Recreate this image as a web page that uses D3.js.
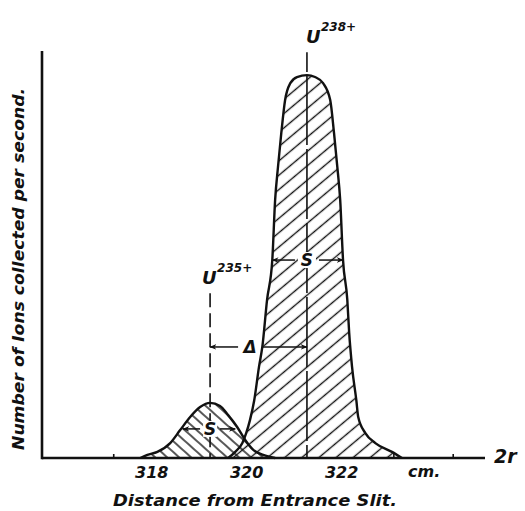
<!DOCTYPE html>
<html>
<head>
<meta charset="utf-8">
<script src="https://cdn.jsdelivr.net/npm/d3@7/dist/d3.min.js"></script>
<style>
  html, body { margin: 0; padding: 0; background: #fff; }
  svg text { font-family: "DejaVu Sans", "Liberation Sans", sans-serif; font-weight: bold; font-style: italic; fill: #111; }
</style>
</head>
<body>
<svg id="chart" width="525" height="511"></svg>
<script>
// ---------------- data ----------------
// Distance from entrance slit (cm) and relative ion current (U238 peak = 100)
const bigPeakX = [319.62, 319.77, 319.92, 320.00, 320.08, 320.17, 320.27, 320.34, 320.44, 320.55, 320.61, 320.67, 320.74, 320.82, 320.93, 321.07, 321.28, 321.45, 321.62, 321.77, 321.85, 321.92, 321.98, 322.04, 322.13, 322.17, 322.23, 322.32, 322.36, 322.51, 322.72, 323.07, 323.28];
const bigPeakY = [0, 1.6, 3.9, 6.5, 9.9, 15.1, 23.8, 29.0, 41.3, 51.7, 67.4, 76.0, 84.9, 93.5, 97.9, 99.5, 100, 99.5, 97.9, 93.5, 84.9, 76.0, 67.4, 51.7, 41.3, 32.6, 23.8, 15.1, 10.7, 6.5, 3.9, 1.6, 0];
const smallPeakX = [317.77, 317.92, 318.13, 318.40, 318.61, 318.82, 319.03, 319.24, 319.45, 319.62, 319.81, 319.98, 320.15, 320.36, 320.61];
const smallPeakY = [0, 0.8, 1.6, 3.9, 7.3, 10.7, 13.3, 14.4, 13.6, 11.2, 8.1, 4.7, 2.1, 0.8, 0];

const peakNames = ["235+", "238+"];
const peakCenters = [319.24, 321.28];
const peakTops = [14.4, 100];
const guideTops = [43, 106];          // where the dashed centre lines start (value units)
const sWidthSmall = [318.67, 319.77]; // S arrow of U235 peak
const sLevelSmall = 7.6;
const sWidthBig = [320.55, 322.04];   // S arrow of U238 peak
const sLevelBig = 51.7;
const deltaLevel = 29;                // Δ arrow level

const xTickValues = [318, 320, 322];
const minorTickValues = [317.2, 323.1, 324.35];
const unitLabel = "cm.";
const unitPos = 323.75;
const xDomain = [315.7, 325.03];
const yDomain = [0, 106.3];

// ---------------- drawing ----------------
const svg = d3.select("#chart");
const x = d3.scaleLinear().domain(xDomain).range([42, 485]);
const y = d3.scaleLinear().domain(yDomain).range([458, 51]);

const defs = svg.append("defs");
function hatch(id, gap, angle, sw) {
  const p = defs.append("pattern").attr("id", id)
    .attr("patternUnits", "userSpaceOnUse")
    .attr("width", gap).attr("height", gap)
    .attr("patternTransform", `rotate(${angle})`);
  p.append("line").attr("x1", gap / 2).attr("x2", gap / 2).attr("y1", -1).attr("y2", gap + 1)
    .attr("stroke", "#111").attr("stroke-width", sw);
}
hatch("hBig", 11, 50, 1.4);
hatch("hSmall", 8, -48, 1.4);

function peakData(xs, ys) { return xs.map((v, i) => [v, ys[i]]); }
const big = peakData(bigPeakX, bigPeakY);
const small = peakData(smallPeakX, smallPeakY);

const area = d3.area().x(d => x(d[0])).y0(y(0)).y1(d => y(d[1])).curve(d3.curveMonotoneX);
const line = d3.line().x(d => x(d[0])).y(d => y(d[1])).curve(d3.curveMonotoneX);

svg.append("path").datum(small).attr("d", area).attr("fill", "url(#hSmall)");
svg.append("path").datum(big).attr("d", area).attr("fill", "url(#hBig)");

// dashed centre lines
svg.append("line").attr("x1", x(peakCenters[0])).attr("x2", x(peakCenters[0]))
  .attr("y1", y(guideTops[0])).attr("y2", y(0)).attr("stroke", "#111").attr("stroke-width", 1.6)
  .attr("stroke-dasharray", "14,6");
svg.append("line").attr("x1", x(peakCenters[1])).attr("x2", x(peakCenters[1]))
  .attr("y1", y(guideTops[1])).attr("y2", y(peakTops[1]) - 3).attr("stroke", "#111").attr("stroke-width", 1.6);
svg.append("line").attr("x1", x(peakCenters[1])).attr("x2", x(peakCenters[1]))
  .attr("y1", y(peakTops[1])).attr("y2", y(0)).attr("stroke", "#111").attr("stroke-width", 1.6)
  .attr("stroke-dasharray", "70,4");

svg.append("path").datum(small).attr("d", line).attr("fill", "none").attr("stroke", "#111").attr("stroke-width", 2.4);
svg.append("path").datum(big).attr("d", line).attr("fill", "none").attr("stroke", "#111").attr("stroke-width", 2.4);

// axes
const xAxis = d3.axisBottom(x).tickValues(xTickValues).tickSize(0).tickPadding(9).tickFormat(d3.format("d"));
const gx = svg.append("g").attr("transform", `translate(0,${y(0)})`).call(xAxis);
gx.select(".domain").remove();
gx.selectAll("text").attr("font-size", 16).attr("font-family", null).style("font-family", "'DejaVu Sans', sans-serif").attr("fill", "#111");
const minorAxis = d3.axisTop(x).tickValues(minorTickValues).tickSize(4).tickFormat("");
const gm = svg.append("g").attr("transform", `translate(0,${y(0)})`).call(minorAxis);
gm.select(".domain").remove();
gm.selectAll("line").attr("stroke", "#111").attr("stroke-width", 1.6);

svg.append("line").attr("x1", x(xDomain[0])).attr("x2", x(xDomain[1])).attr("y1", y(0)).attr("y2", y(0))
  .attr("stroke", "#111").attr("stroke-width", 2.6);
svg.append("line").attr("x1", x(xDomain[0])).attr("x2", x(xDomain[0])).attr("y1", y(yDomain[1])).attr("y2", y(0) + 1.3)
  .attr("stroke", "#111").attr("stroke-width", 2.6);

svg.append("text").attr("x", x(unitPos)).attr("y", y(0) + 19).attr("text-anchor", "middle").attr("font-size", 16).text(unitLabel);
svg.append("text").attr("x", x(xDomain[1]) + 9).attr("y", y(0) + 5).attr("font-size", 19).text("2r");

svg.append("text").attr("x", 113).attr("y", 506).attr("font-size", 15)
  .attr("textLength", 284).attr("lengthAdjust", "spacingAndGlyphs").text("Distance from Entrance Slit.");
svg.append("text").attr("transform", "translate(24,450) rotate(-90)").attr("font-size", 15)
  .attr("textLength", 362).attr("lengthAdjust", "spacingAndGlyphs").text("Number of Ions collected per second.");

// peak labels
[0, 1].forEach(i => {
  const cx = x(peakCenters[i]);
  const by = y(guideTops[i]) - 9;
  const dx = i === 0 ? -8 : -1;
  svg.append("text").attr("x", cx + dx).attr("y", by).attr("font-size", 18).text("U");
  svg.append("text").attr("x", cx + dx + 15).attr("y", by - 12).attr("font-size", 12).text(peakNames[i]);
});

// arrows
defs.append("marker").attr("id", "arr").attr("viewBox", "0 0 10 10").attr("refX", 9).attr("refY", 5)
  .attr("markerWidth", 7).attr("markerHeight", 7).attr("markerUnits", "userSpaceOnUse").attr("orient", "auto")
  .append("path").attr("d", "M0,1 L10,5 L0,9 L3,5 Z").attr("fill", "#111");

function dimArrow(x1, x2, lvl, label, labelX, gapL, gapR, fs) {
  const yy = y(lvl);
  svg.append("rect").attr("x", labelX - gapL + 3).attr("y", yy - 8).attr("width", gapL + gapR - 6).attr("height", 16).attr("fill", "#fff");
  svg.append("line").attr("x1", labelX - gapL).attr("x2", x1).attr("y1", yy).attr("y2", yy)
    .attr("stroke", "#111").attr("stroke-width", 1.5).attr("marker-end", "url(#arr)");
  svg.append("line").attr("x1", labelX + gapR).attr("x2", x2).attr("y1", yy).attr("y2", yy)
    .attr("stroke", "#111").attr("stroke-width", 1.5).attr("marker-end", "url(#arr)");
  svg.append("text").attr("x", labelX).attr("y", yy + fs * 0.36).attr("text-anchor", "middle").attr("font-size", fs).text(label);
}
dimArrow(x(sWidthBig[0]), x(sWidthBig[1]), sLevelBig, "S", x(peakCenters[1]), 12, 12, 17);
dimArrow(x(sWidthSmall[0]), x(sWidthSmall[1]), sLevelSmall, "S", x(peakCenters[0]), 10, 10, 17);
dimArrow(x(peakCenters[0]), x(peakCenters[1]), deltaLevel, "Δ", x(peakCenters[0]) + 40, 12, 12, 17);
</script>
</body>
</html>
